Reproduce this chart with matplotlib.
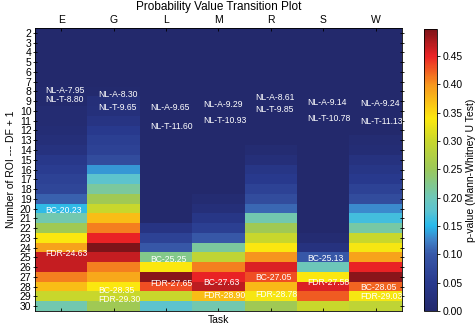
import numpy as np
import matplotlib
matplotlib.use("Agg")
import matplotlib.pyplot as plt
from matplotlib.colors import LinearSegmentedColormap

plt.rcParams['font.family'] = ['Liberation Sans', 'DejaVu Sans']

# data
tasks = ["E", "G", "L", "M", "R", "S", "W"]
rows = list(range(2, 31))

# p-values, rows 2..30, one list per task
p_E = [0.0, 0.0, 0.0, 0.0, 0.0, 0.0, 0.005, 0.005, 0.01, 0.01, 0.015, 0.02, 0.03, 0.045,
       0.055, 0.065, 0.07, 0.105, 0.155, 0.205, 0.255, 0.34, 0.39, 0.465, 0.465, 0.41,
       0.37, 0.30, 0.205]
p_G = [0.0, 0.0, 0.0, 0.0, 0.0, 0.0, 0.005, 0.02, 0.025, 0.035, 0.05, 0.06, 0.065, 0.08,
       0.135, 0.18, 0.215, 0.255, 0.30, 0.37, 0.41, 0.45, 0.4976, 0.465, 0.41, 0.385,
       0.34, 0.30, 0.255]
p_L = [0.0] * 20 + [0.035, 0.065, 0.10, 0.225, 0.34, 0.49, 0.43, 0.30, 0.18]
p_M = [0.0] * 17 + [0.01, 0.02, 0.04, 0.06, 0.10, 0.215, 0.29, 0.41, 0.45, 0.47, 0.37, 0.205]
p_R = [0.0] * 12 + [0.01, 0.02, 0.04, 0.05, 0.065, 0.08, 0.11, 0.205, 0.255, 0.30, 0.34,
                    0.40, 0.455, 0.43, 0.375, 0.335, 0.255]
p_S = [0.0] * 21 + [0.01, 0.03, 0.10, 0.20, 0.34, 0.455, 0.425, 0.30]
p_W = [0.0] * 11 + [0.01, 0.015, 0.03, 0.04, 0.05, 0.065, 0.08, 0.13, 0.165, 0.21, 0.30,
                    0.335, 0.39, 0.45, 0.49, 0.42, 0.335, 0.29]

# annotations: (label, value) per task
notes_E = [("NL-A-7.95", 7.95), ("NL-T-8.80", 8.80), ("BC-20.23", 20.23), ("FDR-24.63", 24.63)]
notes_G = [("NL-A-8.30", 8.30), ("NL-T-9.65", 9.65), ("BC-28.35", 28.35), ("FDR-29.30", 29.30)]
notes_L = [("NL-A-9.65", 9.65), ("NL-T-11.60", 11.60), ("BC-25.25", 25.25), ("FDR-27.65", 27.65)]
notes_M = [("NL-A-9.29", 9.29), ("NL-T-10.93", 10.93), ("BC-27.63", 27.63), ("FDR-28.90", 28.90)]
notes_R = [("NL-A-8.61", 8.61), ("NL-T-9.85", 9.85), ("BC-27.05", 27.05), ("FDR-28.78", 28.78)]
notes_S = [("NL-A-9.14", 9.14), ("NL-T-10.78", 10.78), ("BC-25.13", 25.13), ("FDR-27.58", 27.58)]
notes_W = [("NL-A-9.24", 9.24), ("NL-T-11.13", 11.13), ("BC-28.05", 28.05), ("FDR-29.03", 29.03)]

grid = np.column_stack([p_E, p_G, p_L, p_M, p_R, p_S, p_W])
notes = [notes_E, notes_G, notes_L, notes_M, notes_R, notes_S, notes_W]
vmax = grid.max()

# custom rainbow colormap
stops = [
    (0.000, "#23296c"),
    (0.050, "#293a8e"),
    (0.100, "#3858a8"),
    (0.125, "#3f82c8"),
    (0.150, "#28b9eb"),
    (0.175, "#5ac3d2"),
    (0.200, "#6ec8b9"),
    (0.250, "#9bc85a"),
    (0.300, "#c8d72d"),
    (0.340, "#fce80f"),
    (0.400, "#f7961e"),
    (0.450, "#eb2326"),
    (vmax, "#7d1419"),
]
cmap = LinearSegmentedColormap.from_list("pv", [(v / vmax, c) for v, c in stops])

fig = plt.figure(figsize=(4.77, 3.28), dpi=100)
ax = fig.add_axes([35 / 477, 17 / 328, 367 / 477, 283 / 328])
cax = fig.add_axes([424 / 477, 17 / 328, 13 / 477, 282 / 328])

im = ax.imshow(grid, cmap=cmap, vmin=0, vmax=vmax, aspect="auto",
               interpolation="nearest",
               extent=(-0.5, len(tasks) - 0.5, rows[-1] + 0.5, rows[0] - 0.5))

for i, col_notes in enumerate(notes):
    for label, val in col_notes:
        ax.text(i - 0.3, val, label, color="white", fontsize=6.2,
                ha="left", va="center", clip_on=True)

ax.set_xticks(range(len(tasks)))
ax.set_xticklabels(tasks)
ax.set_yticks(rows)
ax.set_yticklabels([str(r) for r in rows])
ax.xaxis.set_ticks_position("both")
ax.yaxis.set_ticks_position("both")
ax.tick_params(axis="x", labeltop=True, labelbottom=False, direction="in",
               length=2.5, width=0.6, labelsize=7.5, pad=2)
ax.tick_params(axis="y", direction="inout", length=3, width=0.6, labelsize=7.5, pad=1)
for s in ax.spines.values():
    s.set_linewidth(0.6)

ax.set_xlabel("Task", fontsize=7.5, labelpad=3)
ax.set_ylabel("Number of ROI --- DF + 1", fontsize=7.5, labelpad=3)
fig.text(ax.get_position().x0 + ax.get_position().width / 2, 1 - 7 / 328,
         "Probability Value Transition Plot", fontsize=8.5, ha="center", va="center")

cbar = fig.colorbar(im, cax=cax, ticks=np.arange(0, 0.46, 0.05), format="%.2f")
cbar.ax.tick_params(labelsize=7.5, length=2.5, width=0.6, pad=1.5)
cbar.outline.set_linewidth(0.6)
cbar.set_label("p-value (Mann-Whitney U Test)", fontsize=7.5, labelpad=2)

fig.savefig("out.png", dpi=100)
